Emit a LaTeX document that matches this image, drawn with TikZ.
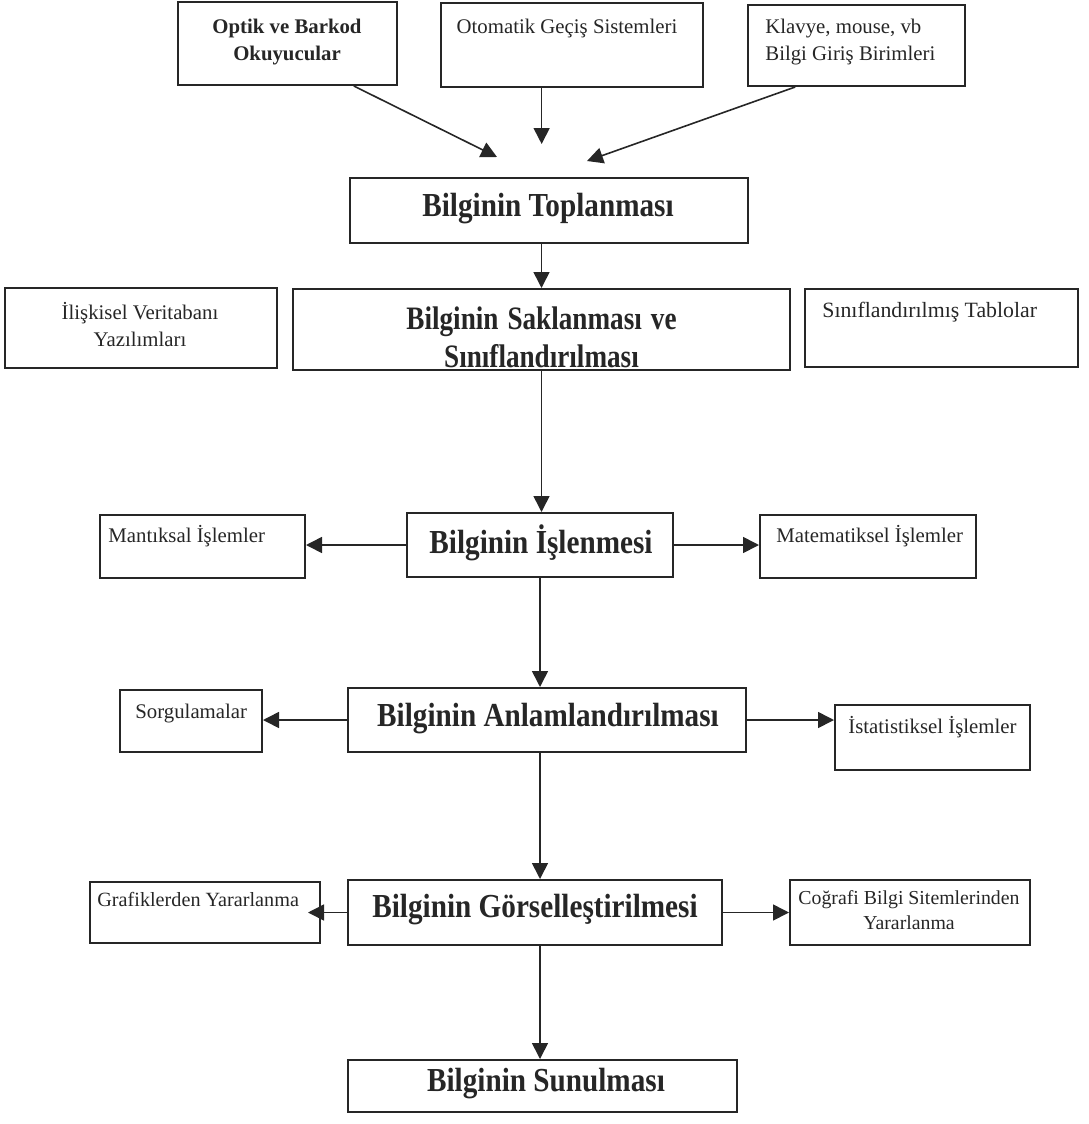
\documentclass[tikz,border=0pt]{standalone}
\usepackage{fontspec}
\usepackage{graphicx}
\setmainfont{Liberation Serif}
\usetikzlibrary{arrows.meta,calc,fit}
\definecolor{ink}{HTML}{262626}
% headings are set a little taller than wide
\newcommand\stretchedline[1]{\scalebox{1}[1.15]{#1}}

\begin{document}
\begin{tikzpicture}[x=0.5pt,y=-0.5pt,
  box/.style={draw=ink, line width=1pt, inner sep=0pt},
  small/.style={font=\fontsize{10.4}{13.5}\selectfont, text=ink, align=center, inner sep=0pt},
  smallbold/.style={small, font=\fontsize{10.4}{13.5}\selectfont\bfseries},
  big/.style={font=\fontsize{14.6}{18}\selectfont\bfseries, text=ink, align=center, inner sep=0pt},
  flow/.style={draw=ink, line width=0.8pt, -{Triangle[length=8pt,width=8pt]}},
]
\useasboundingbox (0,0) rectangle (1088,1124);

% input devices
\node[box, fit={(178,2) (397,85)}] (optik) {};
\node[smallbold] (optikT) at (287,42) {Optik ve Barkod\\Okuyucular};
\node[box, fit={(441,3) (703,87)}] (oto) {};
\node[small] (otoT) at (567,28) {Otomatik Geçiş Sistemleri};
\node[box, fit={(748,5) (965,86)}] (klav) {};
\node[small, align=left, anchor=west] (klavT) at (765,42) {Klavye, mouse, vb\\Bilgi Giriş Birimleri};

% collecting
\node[box, fit={(350,178) (748,243)}] (top) {};
\node[big] (topT) at (548,209) {\stretchedline{Bilginin Toplanması}};

% storing
\node[box, fit={(5,288) (277,368)}] (ilis) {};
\node[small] (ilisT) at (140,325) {İlişkisel Veritabanı\\Yazılımları};
\node[box, fit={(293,289) (790,370)},
      path picture={
        \node[big, anchor=base] at ([yshift=20.5pt]path picture bounding box.south)
          {\scalebox{0.93}[1.12]{Bilginin Saklanması ve}};
        \node[big, anchor=base] at ([yshift=1.5pt]path picture bounding box.south)
          {\scalebox{0.93}[1.12]{Sınıflandırılması}};}] (sak) {};
\node[box, fit={(805,289) (1078,367)}] (sinif) {};
\node[small, anchor=west, font=\fontsize{10.9}{13.5}\selectfont] (sinifT) at (822,312) {Sınıflandırılmış Tablolar};

% processing
\node[box, fit={(407,513) (673,577)}] (isl) {};
\node[big] (islT) at (541,543) {\stretchedline{Bilginin İşlenmesi}};
\node[box, fit={(100,515) (305,578)}] (mant) {};
\node[small, anchor=west] (mantT) at (108,536) {Mantıksal İşlemler};
\node[box, fit={(760,515) (976,578)}] (mat) {};
\node[small, anchor=west] (matT) at (776,536) {Matematiksel İşlemler};

% interpreting
\node[box, fit={(348,688) (746,752)}] (anl) {};
\node[big] (anlT) at (548,719) {\stretchedline{Bilginin Anlamlandırılması}};
\node[box, fit={(120,690) (262,752)}] (sorg) {};
\node[small, anchor=west] (sorgT) at (135,714) {Sorgulamalar};
\node[box, fit={(835,705) (1030,770)}] (ist) {};
\node[small, anchor=west] (istT) at (848,727) {İstatistiksel İşlemler};

% visualising
\node[box, fit={(348,880) (722,945)}] (gor) {};
\node[big] (gorT) at (535,910) {\stretchedline{Bilginin Görselleştirilmesi}};
\node[box, fit={(90,882) (320,943)}] (graf) {};
\node[small, anchor=west, font=\fontsize{10.1}{13.5}\selectfont] (grafT) at (97,899) {Grafiklerden Yararlanma};
\node[box, fit={(790,880) (1030,945)}] (cog) {};
\node[small, font=\fontsize{9.9}{12.5}\selectfont] (cogT) at (909,910) {Coğrafi Bilgi Sitemlerinden\\Yararlanma};

% presenting
\node[box, fit={(348,1060) (737,1112)}] (sun) {};
\node[big] (sunT) at (546,1084) {\stretchedline{Bilginin Sunulması}};

% connectors
\coordinate (optikS) at ($(optik.south west)!0.8!(optik.south east)$);
\coordinate (otoS) at ($(oto.south west)!0.385!(oto.south east)$);
\coordinate (klavS) at ($(klav.south west)!0.22!(klav.south east)$);
\draw[flow] (optikS) -- ([yshift=10pt]$(top.north west)!0.37!(top.north east)$);
\draw[flow] (otoS) -- ([yshift=16.5pt]top.north -| otoS);
\draw[flow] (klavS) -- ([yshift=8pt]$(top.north west)!0.595!(top.north east)$);

\draw[flow] (top.south -| sak.north) -- (sak.north);
\draw[flow] (sak.south) -- (sak.south |- isl.north);
\draw[flow] (isl.west) -- (isl.west -| mant.east);
\draw[flow] (isl.east) -- (isl.east -| mat.west);
\draw[flow] (isl.south) -- (isl.south |- anl.north);
\draw[flow] (anl.west) -- (anl.west -| sorg.east);
\draw[flow] (anl.east) -- (anl.east -| ist.west);
\draw[flow] (isl.south |- anl.south) -- (isl.south |- gor.north);
\draw[flow] (gor.west) -- ([xshift=-6.5pt]gor.west -| graf.east);
\draw[flow] (gor.east) -- (gor.east -| cog.west);
\draw[flow] (isl.south |- gor.south) -- (isl.south |- sun.north);
\end{tikzpicture}
\end{document}
